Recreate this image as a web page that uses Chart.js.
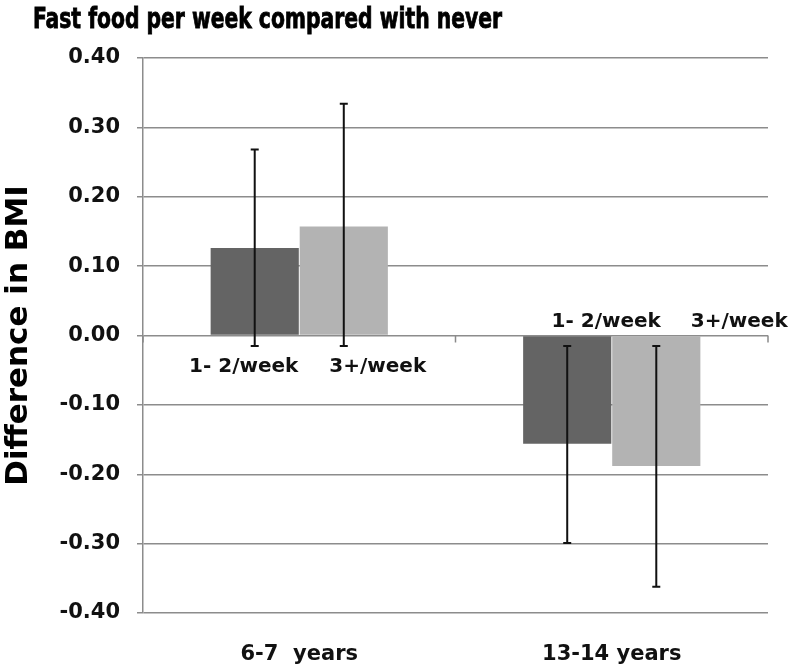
<!DOCTYPE html>
<html>
<head>
<meta charset="utf-8">
<script src="https://cdn.jsdelivr.net/npm/chart.js@4.4.1/dist/chart.umd.min.js"></script>
<style>
  html, body { margin: 0; padding: 0; background: #fff; }
  #wrap { width: 800px; height: 670px; }
</style>
</head>
<body>
<div id="wrap"><canvas id="bmiChart" width="800" height="670"></canvas></div>
<script>
// ---- data ----
const chartTitle = 'Fast food per week compared with never';
const ageGroups = ['6-7  years', '13-14 years'];
const freqLabels = ['1- 2/week', '3+/week'];

const diffLow  = [0.126, -0.156];   // 1-2 per week
const diffHigh = [0.157, -0.188];   // 3+ per week

const ciLowLower  = [-0.015, -0.299];
const ciLowUpper  = [0.268, -0.015];
const ciHighLower = [-0.015, -0.362];
const ciHighUpper = [0.334, -0.015];

const yTicks = [-0.4, -0.3, -0.2, -0.1, 0, 0.1, 0.2, 0.3, 0.4];

const ciBounds = [
  { lower: ciLowLower, upper: ciLowUpper },
  { lower: ciHighLower, upper: ciHighUpper }
];

const boldFont = 'DejaVu Sans, Verdana, sans-serif';

// title drawn narrow, left of centre like the original
const narrowTitle = {
  id: 'narrowTitle',
  afterDraw(chart, args, opts) {
    const ctx = chart.ctx;
    ctx.save();
    ctx.font = 'bold 28px "DejaVu Sans Condensed", "DejaVu Sans", sans-serif';
    ctx.fillStyle = '#000';
    ctx.strokeStyle = '#000';
    ctx.lineWidth = 0.8;
    ctx.textBaseline = 'alphabetic';
    const w = ctx.measureText(chartTitle).width;
    ctx.translate(opts.x, opts.baseline);
    ctx.scale(opts.width / w, 1);
    ctx.fillText(chartTitle, 0, 0);
    ctx.strokeText(chartTitle, 0, 0);
    ctx.restore();
  }
};

// error bars drawn from the y scale
const errorBars = {
  id: 'errorBars',
  afterDatasetsDraw(chart) {
    const ctx = chart.ctx;
    const y = chart.scales.y;
    ctx.save();
    ctx.strokeStyle = '#111';
    ctx.lineWidth = 2;
    chart.data.datasets.forEach((ds, di) => {
      chart.getDatasetMeta(di).data.forEach((bar, i) => {
        const top = y.getPixelForValue(ciBounds[di].upper[i]);
        const bot = y.getPixelForValue(ciBounds[di].lower[i]);
        const cap = 4;
        ctx.beginPath();
        ctx.moveTo(bar.x, top); ctx.lineTo(bar.x, bot);
        ctx.moveTo(bar.x - cap, top); ctx.lineTo(bar.x + cap, top);
        ctx.moveTo(bar.x - cap, bot); ctx.lineTo(bar.x + cap, bot);
        ctx.stroke();
      });
    });
    ctx.restore();
  }
};

// frequency labels near the zero line
const freqTags = {
  id: 'freqTags',
  afterDatasetsDraw(chart, args, opts) {
    const ctx = chart.ctx;
    const y = chart.scales.y;
    const zero = y.getPixelForValue(0);
    ctx.save();
    ctx.font = 'bold 20px ' + boldFont;
    ctx.fillStyle = '#111';
    ctx.textAlign = 'center';
    ctx.textBaseline = 'middle';
    chart.data.datasets.forEach((ds, di) => {
      chart.getDatasetMeta(di).data.forEach((bar, i) => {
        const v = ds.data[i];
        const ty = v >= 0 ? zero + 31 : zero - 14;
        ctx.fillText(freqLabels[di], bar.x + opts.shift[i][di], ty);
      });
    });
    ctx.restore();
  }
};

// small category tick marks hanging from the zero line
const zeroTicks = {
  id: 'zeroTicks',
  beforeDatasetsDraw(chart) {
    const ctx = chart.ctx;
    const x = chart.scales.x;
    const zero = chart.scales.y.getPixelForValue(0);
    const step = (x.right - x.left) / ageGroups.length;
    ctx.save();
    ctx.strokeStyle = '#8a8a8a';
    ctx.lineWidth = 1.5;
    for (let k = 0; k <= ageGroups.length; k++) {
      const px = x.left + k * step;
      ctx.beginPath();
      ctx.moveTo(px, zero); ctx.lineTo(px, zero + 7);
      ctx.stroke();
    }
    ctx.restore();
  }
};

new Chart(document.getElementById('bmiChart'), {
  type: 'bar',
  data: {
    labels: ageGroups,
    datasets: [
      { label: freqLabels[0], data: diffLow, backgroundColor: '#646464' },
      { label: freqLabels[1], data: diffHigh, backgroundColor: '#b3b3b3' }
    ]
  },
  options: {
    responsive: false,
    animation: false,
    layout: { padding: { left: 0, right: 32, top: 58, bottom: 0 } },
    datasets: { bar: { categoryPercentage: 0.57, barPercentage: 0.99 } },
    plugins: {
      legend: { display: false },
      tooltip: { enabled: false },
      title: { display: false },
      narrowTitle: { x: 33, baseline: 28, width: 469 },
      freqTags: { shift: [[-11, 34], [39, 83]] }
    },
    scales: {
      x: {
        grid: { display: false },
        border: { display: false },
        ticks: {
          color: '#111',
          padding: 21,
          font: { family: boldFont, size: 21, weight: 'bold' }
        },
        afterFit(s) { s.height = 57; }
      },
      y: {
        min: -0.4,
        max: 0.4,
        afterBuildTicks(s) { s.ticks = yTicks.map(v => ({ value: v })); },
        grid: { color: '#8c8c8c', lineWidth: 1.5, tickLength: 6 },
        border: { color: '#8c8c8c', width: 1.5 },
        ticks: {
          color: '#111',
          padding: 17,
          font: { family: boldFont, size: 21, weight: 'bold' },
          callback: v => v.toFixed(2)
        },
        title: {
          display: true,
          text: 'Difference in BMI',
          color: '#000',
          font: { family: boldFont, size: 31, weight: 'bold' },
          padding: { top: 0, bottom: 0 }
        },
        afterFit(s) { s.width = 143; }
      }
    }
  },
  plugins: [zeroTicks, errorBars, freqTags, narrowTitle]
});
</script>
</body>
</html>
